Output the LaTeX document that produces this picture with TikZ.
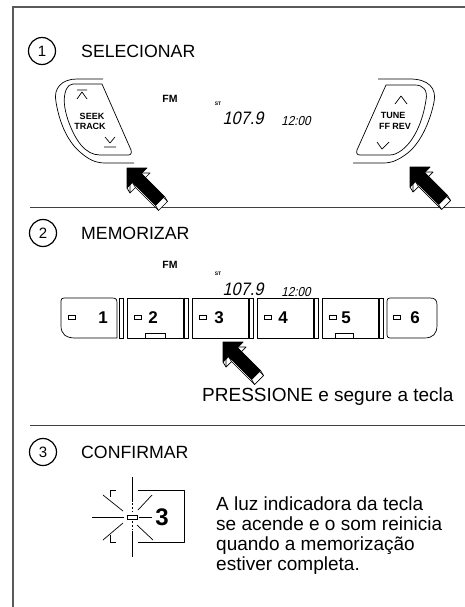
\documentclass[tikz,border=0pt]{standalone}
\usepackage{fontspec}
\setmainfont{Liberation Sans}
\newfontfamily\lcdfont{Liberation Sans}[FakeSlant=0.22,FakeStretch=0.9]
\newcommand\titlesize{\fontsize{17.7pt}{20pt}\selectfont}
\newcommand\bodysize{\fontsize{19pt}{20pt}\selectfont}
\newcommand\circsize{\fontsize{15pt}{15pt}\selectfont}

% Black 3-D "press here" arrow, tip at #1, pointing up-left
\newcommand\pressarrow[1]{%
  \begin{scope}[shift={#1}]
    \draw[arrowline, fill=white] (3,5) -- (23,5) -- (17.5,10.5) -- (40.5,33.5) -- (31.5,42.5) -- (8.5,19.5) -- (3,25) -- cycle;
    \foreach \a/\b in {0/20, 5.5/14.5, 28.5/37.5, 37.5/28.5}{\draw[arrowline] (\a,\b) -- ++(3,5);}
    \filldraw[arrowline] (0,0) -- (20,0) -- (14.5,5.5) -- (37.5,28.5) -- (28.5,37.5) -- (5.5,14.5) -- (0,20) -- cycle;
  \end{scope}}

\begin{document}
\begin{tikzpicture}[x=1pt,y=-1pt,
  frameline/.style={line width=1.4pt, draw=black!65},
  rule/.style={line width=1pt, draw=black!75},
  stepnum/.style={circle, draw, line width=1.2pt, minimum width=27pt, minimum height=27pt, inner sep=0pt, font=\circsize},
  steptitle/.style={anchor=base west, inner sep=0pt, font=\titlesize},
  body/.style={anchor=base west, inner sep=0pt, font=\bodysize},
  outline/.style={line width=0.7pt, line join=round},
  arrowline/.style={line width=0.7pt, line join=round},
  keylabel/.style={inner sep=0pt, font=\bfseries\fontsize{9}{9}\selectfont},
  fmlabel/.style={inner sep=0pt, font=\bfseries\fontsize{10.5}{10}\selectfont},
  stlabel/.style={inner sep=0pt, font=\bfseries\fontsize{5}{5}\selectfont},
  freq/.style={inner sep=0pt, font=\lcdfont\fontsize{18}{18}\selectfont},
  clock/.style={inner sep=0pt, font=\lcdfont\fontsize{13}{13}\selectfont},
  digit/.style={inner sep=0pt, font=\bfseries\fontsize{17}{17}\selectfont},
  led/.style={line width=0.6pt},
]
\useasboundingbox (0,0) rectangle (465,607);

% page frame and section rules
\draw[frameline] (13,607) -- (13,7) -- (465,7);
\draw[rule] (30,207) -- (465,207);
\draw[rule] (30,425) -- (465,425);

% ---------- 1: SELECIONAR ----------
\node[stepnum] (n1) at (42,51) {1};
\node[steptitle] (h1) at (81,57.5) {SELECIONAR};

% SEEK / TRACK steering-wheel key
\draw[outline] (103,79) -- (77,79) .. controls (62,79) and (53,88) .. (56,102)
   .. controls (59,120) and (66,140) .. (80,152) .. controls (88,159) and (95,163) .. (105,163) -- (134,163);
\draw[outline] (73,84) -- (102,84) -- (131,150) .. controls (132,153) and (131,155) .. (128,155) -- (100,155)
   .. controls (85,155) and (75,140) .. (68,120) .. controls (64,108) and (63,98) .. (66,90)
   .. controls (68,86) and (70,84) .. (73,84) -- cycle;
\draw[outline] (77,90) -- (87,90) (77,99) -- (82,92) -- (87,99);
\draw[outline] (105,137) -- (110,143) -- (115,137) (104,147) -- (116,147);
\node[keylabel] (seek) at (92,116) {SEEK};
\node[keylabel] (track) at (90,126) {TRACK};

% TUNE / FF REV steering-wheel key
\draw[outline] (378,79) -- (410,79) .. controls (428,79) and (437,88) .. (434,102)
   .. controls (430,122) and (420,145) .. (405,155) .. controls (398,160) and (392,163) .. (383,163) -- (353,163);
\draw[outline] (386,85) -- (415,85) .. controls (423,85) and (428,90) .. (426,100)
   .. controls (423,120) and (415,140) .. (402,150) .. controls (398,153) and (394,155) .. (390,155)
   -- (360,155) .. controls (357,155) and (356,153) .. (357,150) -- cycle;
\draw[outline] (395,104) -- (401,96) -- (407,104);
\draw[outline] (377,142) -- (382,149) -- (389,142);
\node[keylabel] (tune) at (393,115) {TUNE};
\node[keylabel] (ffrev) at (395,126) {FF REV};

% display
\node[fmlabel] (fm1) at (170,98.5) {FM};
\node[stlabel] (st1) at (218,104) {ST};
\node[freq] (fq1) at (243,118) {107.9};
\node[clock] (ck1) at (296,121) {12:00};

\pressarrow{(127,168)}
\pressarrow{(410,167)}

% ---------- 2: MEMORIZAR ----------
\node[stepnum] (n2) at (43,233) {2};
\node[steptitle] (h2) at (81,239.5) {MEMORIZAR};

\node[fmlabel] (fm2) at (170,265) {FM};
\node[stlabel] (st2) at (218,274) {ST};
\node[freq] (fq2) at (243,289) {107.9};
\node[clock] (ck2) at (296,292) {12:00};

% preset keys
\draw[outline] (61,326) -- (61,301) .. controls (61,299) and (62,298) .. (64,298) -- (112,298)
   .. controls (116,298) and (117,299) .. (117,303) -- (117,338) -- (75,338)
   .. controls (66,338) and (61,334) .. (61,326) -- cycle;
\foreach \x in {127,192,257,322}{\draw[outline] (\x,298) rectangle (\x+56,338);}
\draw[outline] (390,298) -- (430,298) .. controls (435,298) and (437,300) .. (437,305) -- (437,325)
   .. controls (437,334) and (433,338) .. (424,338) -- (390,338) .. controls (388,338) and (387,337) .. (387,335)
   -- (387,301) .. controls (387,299) and (388,298) .. (390,298) -- cycle;
\foreach \x in {119,184,249,314,379}{\draw[line width=0.6pt] (\x,298) rectangle (\x+4.5,338);}
\foreach \x in {68,134,199,264,329,393}{\draw[led] (\x,315) rectangle (\x+7,319);}
\draw[led] (145,333.5) rectangle (165,338);
\draw[led] (335,333.5) rectangle (353,338);
\node[digit] (k1) at (103,318) {1};
\node[digit] (k2) at (153,318) {2};
\node[digit] (k3) at (219,318) {3};
\node[digit] (k4) at (283,318) {4};
\node[digit] (k5) at (346,318) {5};
\node[digit] (k6) at (415,318) {6};

\pressarrow{(223,342)}
\node[body] (press) at (202,401) {PRESSIONE e segure a tecla};

% ---------- 3: CONFIRMAR ----------
\node[stepnum] (n3) at (43,452) {3};
\node[steptitle] (h3) at (81,458.5) {CONFIRMAR};

% lit preset key with light rays
\draw[outline] (138,490) -- (184,490) -- (184,542) -- (138,542);
\draw[outline] (116,490) -- (110,490) -- (110,497);
\draw[outline] (110,535) -- (110,542) -- (116,542);
\draw[led] (127,515) rectangle (137,519);
\draw[outline] (132,477) -- (132,502) (132,531) -- (132,557);
\draw[outline] (92,517) -- (124,517) (139,517) -- (152,517);
\draw[outline] (103,495) -- (123,511) (152,495) -- (138,510);
\draw[outline] (103,540) -- (123,523) (153,540) -- (137,525);
\draw[dash pattern=on 2pt off 2pt, line width=0.5pt] (132,503) -- (132,512) (132,521) -- (132,530);
\node[inner sep=0pt, font=\bfseries\fontsize{24}{24}\selectfont] (lit) at (162,517) {3};

\node[body] (l1) at (216,510) {A luz indicadora da tecla};
\node[body] (l2) at (216,530) {se acende e o som reinicia};
\node[body] (l3) at (216,550) {quando a memorização};
\node[body] (l4) at (216,570) {estiver completa.};
\end{tikzpicture}
\end{document}
